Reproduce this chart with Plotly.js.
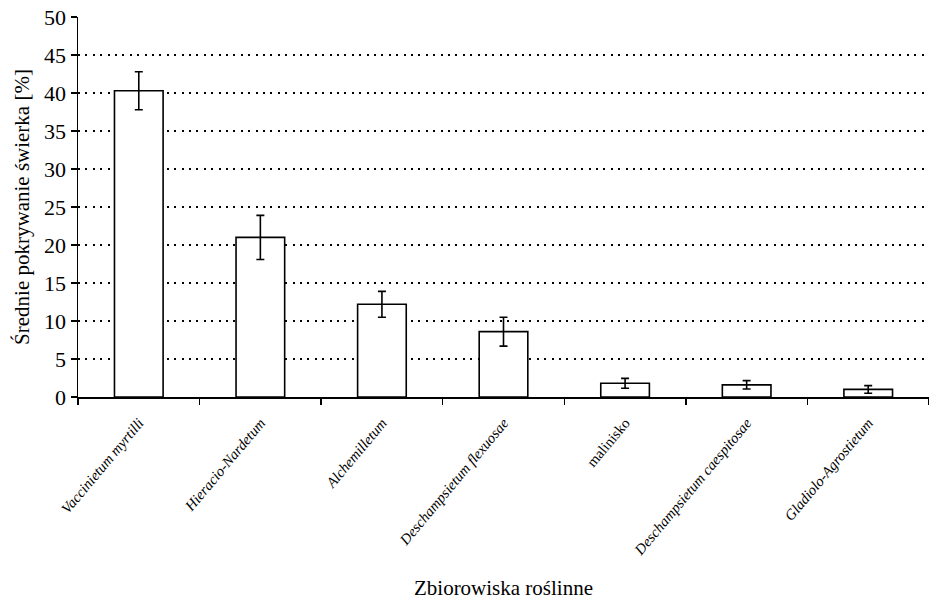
<!DOCTYPE html>
<html><head><meta charset="utf-8">
<script src="https://cdn.plot.ly/plotly-3.0.1.min.js"></script>
<style>html,body{margin:0;padding:0;background:#fff}</style>
</head><body><div id="chart" style="width:929px;height:600px"></div>
<script>
const categories = ["Vaccinietum myrtilli","Hieracio-Nardetum","Alchemilletum","Deschampsietum flexuosae","malinisko","Deschampsietum caespitosae","Gladiolo-Agrostietum"];
const italicFlags = [true,true,true,true,false,true,true];
const meanValues = [40.3, 21.0, 12.2, 8.6, 1.8, 1.6, 1.0];
const errorValues = [2.5, 2.9, 1.7, 1.9, 0.65, 0.55, 0.5];
const yTicks = [0,5,10,15,20,25,30,35,40,45,50];

const tickText = categories.map((c,i)=> italicFlags[i] ? '<i>'+c+'</i>' : c);
const FONT = 'Liberation Serif, Times New Roman, serif';

const trace = {
  type:'bar', x: categories, y: meanValues, width: 0.4,
  marker:{color:'#ffffff', line:{color:'#000000', width:1.6}},
  error_y:{type:'data', array: errorValues, visible:true, color:'#000000', thickness:1.6, width:4},
  hoverinfo:'none'
};
const layout = {
  width:929, height:600,
  margin:{l:78, r:0, t:17, b:203},
  paper_bgcolor:'#fff', plot_bgcolor:'#fff',
  showlegend:false,
  font:{family:FONT, color:'#000'},
  xaxis:{
    type:'category', tickvals: categories, ticktext: tickText,
    tickangle:-50, tickson:'boundaries', ticks:'outside', ticklen:6, tickwidth:1.5, tickcolor:'#000',
    ticklabelstandoff:10,
    showline:true, linecolor:'#000', linewidth:1.5, showgrid:false, zeroline:false,
    tickfont:{size:14.7, family:FONT, color:'#000'},
    title:{text:'Zbiorowiska roślinne', font:{size:21, family:FONT, color:'#000'}, standoff:24},
    range:[-0.5, 6.5]
  },
  yaxis:{
    range:[0,50], tickvals: yTicks, ticks:'outside', ticklen:6, tickwidth:1.5, tickcolor:'#000',
    showline:true, linecolor:'#000', linewidth:1.5,
    showgrid:true, gridcolor:'#000', gridwidth:2, griddash:'2px,5.4px', zeroline:false,
    tickfont:{size:22, family:FONT, color:'#000'},
    title:{text:'Średnie pokrywanie świerka [%]', font:{size:21, family:FONT, color:'#000'}, standoff:8}
  }
};
Plotly.newPlot('chart',[trace],layout,{staticPlot:true, displayModeBar:false});
</script></body></html>
